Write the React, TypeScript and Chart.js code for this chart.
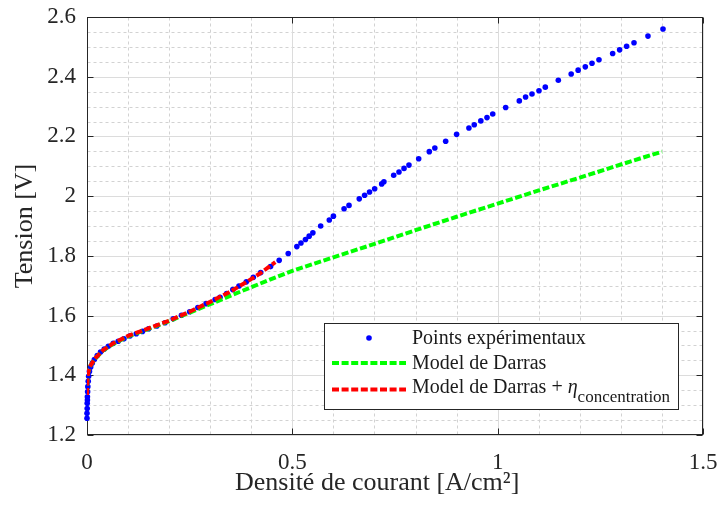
import React, { useEffect, useRef } from 'react';
import { Chart, registerables } from 'chart.js';

Chart.register(...registerables);

const FONT = "'Liberation Serif', 'Times New Roman', serif";
const INK = '#262626';

// Axis ticks
const xTickValues = [0, 0.5, 1, 1.5];
const yTickValues = [1.2, 1.4, 1.6, 1.8, 2, 2.2, 2.4, 2.6];
const xMinorValues = [0.1, 0.2, 0.3, 0.4, 0.6, 0.7, 0.8, 0.9, 1.1, 1.2, 1.3, 1.4];
const yMinorValues = [1.25, 1.3, 1.35, 1.45, 1.5, 1.55, 1.65, 1.7, 1.75, 1.85, 1.9, 1.95, 2.05, 2.1, 2.15, 2.25, 2.3, 2.35, 2.45, 2.5, 2.55];

// Experimental points
const expX = [0, 0, 0.0005, 0.0005, 0.001, 0.001, 0.0015, 0.002, 0.003, 0.004, 0.006, 0.009, 0.013, 0.018, 0.025, 0.033, 0.042, 0.052, 0.064, 0.076, 0.09, 0.105, 0.12, 0.135, 0.15, 0.17, 0.19, 0.21, 0.23, 0.25, 0.27, 0.29, 0.312, 0.324, 0.34, 0.355, 0.37, 0.388, 0.405, 0.423, 0.447, 0.468, 0.49, 0.511, 0.521, 0.532, 0.541, 0.55, 0.569, 0.59, 0.6, 0.626, 0.638, 0.663, 0.676, 0.688, 0.7005, 0.7176, 0.723, 0.7468, 0.7597, 0.772, 0.784, 0.8077, 0.8335, 0.847, 0.8734, 0.9, 0.93, 0.943, 0.959, 0.974, 0.988, 1.0195, 1.0527, 1.068, 1.0836, 1.1006, 1.116, 1.1477, 1.179, 1.196, 1.2134, 1.2297, 1.2467, 1.28, 1.297, 1.314, 1.332, 1.366, 1.4026];
const expY = [1.256, 1.273, 1.289, 1.306, 1.317, 1.328, 1.345, 1.362, 1.38, 1.397, 1.413, 1.428, 1.441, 1.453, 1.466, 1.478, 1.488, 1.497, 1.507, 1.514, 1.522, 1.532, 1.539, 1.547, 1.556, 1.565, 1.576, 1.589, 1.601, 1.613, 1.627, 1.64, 1.654, 1.661, 1.674, 1.687, 1.699, 1.713, 1.728, 1.744, 1.764, 1.785, 1.808, 1.831, 1.843, 1.855, 1.866, 1.877, 1.9, 1.92, 1.933, 1.958, 1.969, 1.991, 2.003, 2.014, 2.025, 2.041, 2.048, 2.07, 2.081, 2.093, 2.104, 2.125, 2.149, 2.161, 2.184, 2.207, 2.228, 2.239, 2.252, 2.263, 2.275, 2.297, 2.319, 2.332, 2.342, 2.353, 2.365, 2.388, 2.409, 2.422, 2.433, 2.445, 2.457, 2.478, 2.49, 2.502, 2.514, 2.536, 2.56];

// Model de Darras
const darrasX = [0, 0.001, 0.003, 0.007, 0.01, 0.02, 0.04, 0.064, 0.1, 0.145, 0.2, 0.25, 0.3, 0.35, 0.4, 0.45, 0.5, 0.6, 0.7, 0.8, 0.9, 1.0, 1.1, 1.2, 1.3, 1.4];
const darrasY = [1.334, 1.39, 1.41, 1.429, 1.436, 1.456, 1.484, 1.505, 1.53, 1.553, 1.581, 1.61, 1.638, 1.667, 1.695, 1.723, 1.75, 1.795, 1.84, 1.886, 1.931, 1.975, 2.019, 2.062, 2.106, 2.149];

// Model de Darras + eta_concentration
const concX = [0, 0.001, 0.003, 0.007, 0.01, 0.02, 0.04, 0.064, 0.1, 0.145, 0.2, 0.25, 0.3, 0.35, 0.389, 0.42, 0.4586];
const concY = [1.334, 1.39, 1.41, 1.429, 1.436, 1.457, 1.485, 1.507, 1.532, 1.555, 1.583, 1.613, 1.646, 1.681, 1.713, 1.74, 1.779];

const seriesLabels = ['Points expérimentaux', 'Model de Darras', 'Model de Darras + '];
const etaSymbol = 'η';
const etaSubscript = 'concentration';
const xAxisTitle = 'Densité de courant [A/cm²]';
const yAxisTitle = 'Tension [V]';

const LINE_DASH = [7, 2.6];

const framePlugin = {
  id: 'matlabFrame',
  beforeDatasetsDraw(chart: any) {
    const { ctx, chartArea: a, scales } = chart;
    const xs = scales.x;
    const ys = scales.y;
    const L = Math.round(a.left) + 0.5;
    const R = Math.round(a.right) - 0.5;
    const T = Math.round(a.top) + 0.5;
    const B = Math.round(a.bottom) - 0.5;
    ctx.save();
    ctx.lineWidth = 1;
    // minor grid (dashed)
    ctx.strokeStyle = '#d2d2d2';
    ctx.setLineDash([3, 3]);
    for (const v of xMinorValues) {
      const p = Math.round(xs.getPixelForValue(v)) + 0.5;
      ctx.beginPath(); ctx.moveTo(p, T); ctx.lineTo(p, B); ctx.stroke();
    }
    for (const v of yMinorValues) {
      const p = Math.round(ys.getPixelForValue(v)) + 0.5;
      ctx.beginPath(); ctx.moveTo(L, p); ctx.lineTo(R, p); ctx.stroke();
    }
    // major grid
    ctx.setLineDash([]);
    ctx.strokeStyle = '#dcdcdc';
    for (const v of xTickValues) {
      const p = Math.round(xs.getPixelForValue(v)) + 0.5;
      ctx.beginPath(); ctx.moveTo(p, T); ctx.lineTo(p, B); ctx.stroke();
    }
    for (const v of yTickValues) {
      const p = Math.round(ys.getPixelForValue(v)) + 0.5;
      ctx.beginPath(); ctx.moveTo(L, p); ctx.lineTo(R, p); ctx.stroke();
    }
    // box
    ctx.strokeStyle = INK;
    ctx.strokeRect(L, T, R - L, B - T);
    // inward ticks on all sides
    const tl = 6;
    for (const v of xTickValues) {
      const p = Math.round(xs.getPixelForValue(v)) + 0.5;
      ctx.beginPath();
      ctx.moveTo(p, B); ctx.lineTo(p, B - tl);
      ctx.moveTo(p, T); ctx.lineTo(p, T + tl);
      ctx.stroke();
    }
    for (const v of yTickValues) {
      const p = Math.round(ys.getPixelForValue(v)) + 0.5;
      ctx.beginPath();
      ctx.moveTo(L, p); ctx.lineTo(L + tl, p);
      ctx.moveTo(R, p); ctx.lineTo(R - tl, p);
      ctx.stroke();
    }
    ctx.restore();
  },
  afterDatasetsDraw(chart: any) {
    const { ctx, chartArea: a } = chart;
    const w = 354;
    const h = 86;
    const lx = Math.round(a.right - 25 - w);
    const ly = Math.round(a.bottom - 26 - h);
    ctx.save();
    ctx.fillStyle = '#ffffff';
    ctx.fillRect(lx, ly, w, h);
    ctx.strokeStyle = INK;
    ctx.lineWidth = 1;
    ctx.strokeRect(lx + 0.5, ly + 0.5, w, h);

    const sx0 = lx + 8;
    const sx1 = lx + 82;
    const tx = lx + 88;
    // row 1: points
    ctx.fillStyle = '#0000ff';
    ctx.beginPath();
    ctx.arc((sx0 + sx1) / 2, ly + 15, 2.8, 0, Math.PI * 2);
    ctx.fill();
    // row 2: green dashed
    ctx.lineWidth = 4;
    ctx.lineCap = 'butt';
    ctx.setLineDash(LINE_DASH);
    ctx.strokeStyle = '#00ff00';
    ctx.beginPath(); ctx.moveTo(sx0, ly + 40); ctx.lineTo(sx1, ly + 40); ctx.stroke();
    // row 3: red dashed
    ctx.strokeStyle = '#ff0000';
    ctx.beginPath(); ctx.moveTo(sx0, ly + 66.5); ctx.lineTo(sx1, ly + 66.5); ctx.stroke();
    ctx.setLineDash([]);

    ctx.fillStyle = '#1a1a1a';
    ctx.textBaseline = 'alphabetic';
    ctx.textAlign = 'left';
    ctx.font = `20px ${FONT}`;
    ctx.fillText(seriesLabels[0], tx, ly + 21);
    ctx.fillText(seriesLabels[1], tx, ly + 46);
    ctx.fillText(seriesLabels[2], tx, ly + 70);
    let cx = tx + ctx.measureText(seriesLabels[2]).width;
    ctx.font = `italic 20px ${FONT}`;
    ctx.fillText(etaSymbol, cx, ly + 70);
    cx += ctx.measureText(etaSymbol).width;
    ctx.font = `17px ${FONT}`;
    ctx.fillText(etaSubscript, cx, ly + 79);
    ctx.restore();
  },
  afterDraw(chart: any) {
    // x-axis label (placed as in the reference, slightly left of the axes centre)
    const { ctx, chartArea: a } = chart;
    ctx.save();
    ctx.fillStyle = INK;
    ctx.font = `26px ${FONT}`;
    ctx.textAlign = 'center';
    ctx.textBaseline = 'alphabetic';
    ctx.fillText(xAxisTitle, a.left + (a.right - a.left) * 0.471, a.bottom + 55);
    ctx.restore();
  },
};

export default function App() {
  const canvasRef = useRef<HTMLCanvasElement | null>(null);

  useEffect(() => {
    const canvas = canvasRef.current;
    if (!canvas) return;
    const chart = new Chart(canvas, {
      type: 'scatter',
      data: {
        datasets: [
          {
            label: seriesLabels[2] + etaSymbol + etaSubscript,
            data: concX.map((x, i) => ({ x, y: concY[i] })),
            showLine: true,
            borderColor: '#ff0000',
            backgroundColor: '#ff0000',
            borderWidth: 4,
            borderDash: LINE_DASH,
            borderCapStyle: 'butt',
            pointRadius: 0,
            tension: 0,
            order: 0,
          },
          {
            label: seriesLabels[1],
            data: darrasX.map((x, i) => ({ x, y: darrasY[i] })),
            showLine: true,
            borderColor: '#00ff00',
            backgroundColor: '#00ff00',
            borderWidth: 4,
            borderDash: LINE_DASH,
            borderCapStyle: 'butt',
            pointRadius: 0,
            tension: 0,
            order: 1,
          },
          {
            label: seriesLabels[0],
            data: expX.map((x, i) => ({ x, y: expY[i] })),
            showLine: false,
            backgroundColor: '#0000ff',
            borderColor: '#0000ff',
            borderWidth: 0,
            pointRadius: 2.8,
            pointHoverRadius: 2.8,
            clip: false,
            order: 2,
          },
        ],
      } as any,
      options: {
        responsive: false,
        animation: false,
        devicePixelRatio: 1,
        events: [],
        layout: { padding: { left: 0, top: 17, right: 16, bottom: 0 } },
        plugins: { legend: { display: false }, tooltip: { enabled: false } },
        scales: {
          x: {
            type: 'linear',
            min: 0,
            max: 1.5,
            grid: { display: false, drawTicks: false },
            border: { display: false },
            afterBuildTicks: (s: any) => { s.ticks = xTickValues.map((v) => ({ value: v })); },
            afterFit: (s: any) => {
              s.height = 73;
              s.paddingLeft = 0; s.paddingRight = 0; s.paddingTop = 0; s.paddingBottom = 0;
            },
            ticks: {
              font: { family: FONT, size: 23 },
              color: INK,
              padding: 14,
              maxRotation: 0,
              autoSkip: false,
              callback: (v: any) => String(v),
            },
            title: { display: false, text: xAxisTitle },
          },
          y: {
            type: 'linear',
            min: 1.2,
            max: 2.6,
            grid: { display: false, drawTicks: false },
            border: { display: false },
            afterBuildTicks: (s: any) => { s.ticks = yTickValues.map((v) => ({ value: v })); },
            afterFit: (s: any) => {
              s.width = 87;
              s.paddingLeft = 0; s.paddingRight = 0; s.paddingTop = 0; s.paddingBottom = 0;
            },
            ticks: {
              font: { family: FONT, size: 23 },
              color: INK,
              padding: 11,
              autoSkip: false,
              callback: (v: any) => String(v),
            },
            title: {
              display: true,
              text: yAxisTitle,
              font: { family: FONT, size: 26 },
              color: INK,
              padding: { top: 10, bottom: 0 },
            },
          },
        },
      } as any,
      plugins: [framePlugin],
    });
    return () => chart.destroy();
  }, []);

  return (
    <div style={{ position: 'fixed', left: 0, top: 0, width: 719, height: 508, background: '#ffffff' }}>
      <canvas ref={canvasRef} width={719} height={508} style={{ display: 'block', width: 719, height: 508 }} />
    </div>
  );
}
